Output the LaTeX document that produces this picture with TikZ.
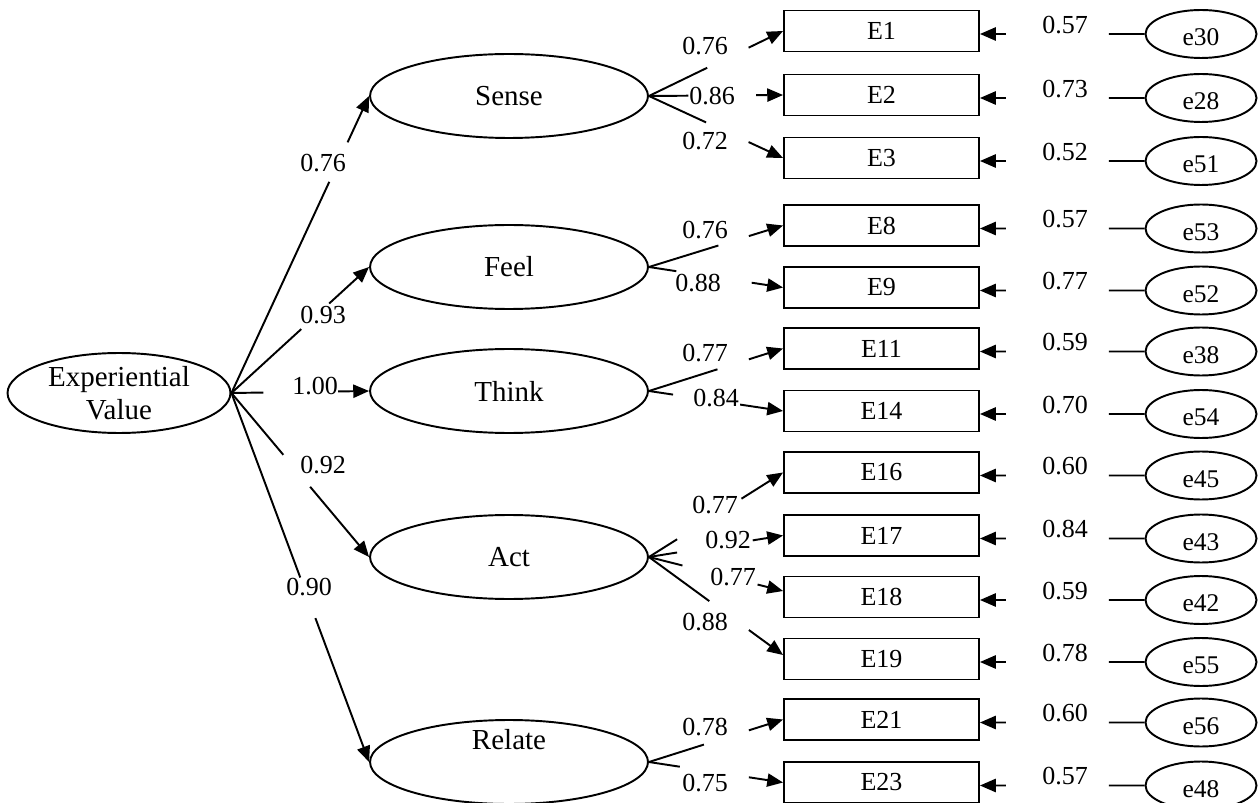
\documentclass[tikz,border=0pt]{standalone}
\usepackage{fontspec}
\setmainfont{Liberation Serif}
\usetikzlibrary{arrows.meta,calc,shapes.geometric}
\newcommand\gapline[4]{%
  \draw (#1) -- ($(#1)!#3!(#2)$);
  \draw[arr] ($(#1)!#4!(#2)$) -- (#2);}
\begin{document}
\begin{tikzpicture}[x=0.02cm,y=-0.02cm,
  line width=1.1pt,
  lat/.style={ellipse,draw,line width=1.1pt,minimum width=5.56cm,minimum height=1.68cm,inner sep=0pt,font=\fontsize{16.5}{19}\selectfont},
  obs/.style={rectangle,draw,line width=1.1pt,minimum width=3.9cm,minimum height=0.82cm,inner sep=0pt,font=\fontsize{14.8}{17}\selectfont},
  err/.style={ellipse,draw,line width=1.1pt,minimum width=2.22cm,minimum height=0.96cm,inner sep=0pt,text height=13.3pt,text depth=0pt,font=\fontsize{14.5}{17}\selectfont},
  coef/.style={inner sep=0pt,font=\fontsize{14.8}{17}\selectfont},
  arr/.style={-{Triangle[length=9pt,width=7.5pt]}}
]
\useasboundingbox (0,0) rectangle (1260,803);

% latent variables
\node[lat,minimum width=4.46cm,minimum height=1.6cm,align=center] (EV) at (119,393) {Experiential\\Value};
\node[lat] (Sense) at (509,96) {Sense};
\node[lat] (Feel) at (509,267) {Feel};
\node[lat] (Think) at (509,391) {Think};
\node[lat] (Act) at (509,557) {Act};
\node[lat] (Relate) at (509,762) {};
\node[coef,font=\fontsize{16.5}{19}\selectfont] (RelateT) at (509,740) {Relate};

% observed variables and errors
\foreach \n/\y/\e/\v in {E1/31/e30/0.57, E2/95/e28/0.73, E3/158/e51/0.52,
  E8/225.5/e53/0.57, E9/287.5/e52/0.77, E11/348.5/e38/0.59, E14/411/e54/0.70,
  E16/472.5/e45/0.60, E17/535.5/e43/0.84, E18/597/e42/0.59, E19/659/e55/0.78,
  E21/719.5/e56/0.60, E23/782.5/e48/0.57}{
  \node[obs] (\n) at (881.5,\y) {\n};
  \node[err] (\e) at (1201,\y+3) {\e};
  \coordinate (t\n) at (\n.east |- \e.west);
  \gapline{\e.west}{t\n}{0.217}{0.843}
  \node[coef] (l\e) at (1065,\y-6) {\v};
}

% top-level paths
\gapline{EV.east}{Sense.west}{0.711}{0.844}
\node[coef] (c1) at (323,163) {0.76};
\gapline{EV.east}{Feel.west}{0.507}{0.71}
\node[coef] (c2) at (323,315) {0.93};
\gapline{EV.east}{Think.west}{0.232}{0.775}
\node[coef] (c3) at (315,386) {1.00};
\gapline{EV.east}{Act.west}{0.377}{0.572}
\node[coef] (c4) at (323,465) {0.92};
\gapline{EV.east}{Relate.west}{0.50}{0.61}
\node[coef] (c5) at (309,587) {0.90};

% loadings
\coordinate (tE18) at ($(E18.west)+(0,-6)$);
\coordinate (tE19) at ($(E19.west)+(0,-4)$);

\gapline{Sense.east}{E1.west}{0.434}{0.743}
\node[coef] (d1) at (705,46) {0.76};
\gapline{Sense.east}{E2.west}{0.294}{0.80}
\node[coef] (d2) at (712,96) {0.86};
\gapline{Sense.east}{E3.west}{0.426}{0.743}
\node[coef] (d3) at (705,141) {0.72};

\gapline{Feel.east}{E8.west}{0.518}{0.745}
\node[coef] (d8) at (705,230) {0.76};
\gapline{Feel.east}{E9.west}{0.204}{0.766}
\node[coef] (d9) at (698,283) {0.88};

\gapline{Think.east}{E11.west}{0.511}{0.745}
\node[coef] (d11) at (705,353) {0.77};
\gapline{Think.east}{E14.west}{0.18}{0.68}
\node[coef] (d14) at (716,398) {0.84};

\gapline{Act.east}{E16.west}{0.21}{0.69}
\node[coef] (d16) at (715,505) {0.77};
\gapline{Act.east}{E17.west}{0.21}{0.774}
\node[coef] (d17) at (728,540) {0.92};
\gapline{Act.east}{tE18}{0.25}{0.81}
\node[coef] (d18) at (733,577) {0.77};
\gapline{Act.east}{tE19}{0.45}{0.745}
\node[coef] (d19) at (705,622) {0.88};

\gapline{Relate.east}{E21.west}{0.41}{0.745}
\node[coef] (d21) at (705,727) {0.78};
\gapline{Relate.east}{E23.west}{0.23}{0.745}
\node[coef] (d23) at (705,783) {0.75};
\end{tikzpicture}
\end{document}
